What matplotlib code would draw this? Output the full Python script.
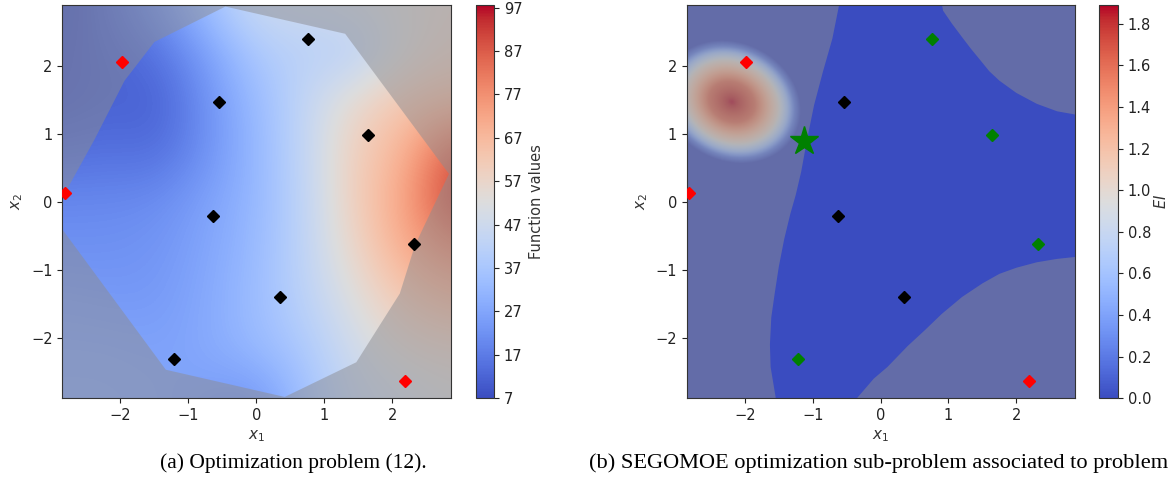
import numpy as np
import matplotlib
matplotlib.use("Agg")
import matplotlib.pyplot as plt
from matplotlib.path import Path
from matplotlib.patches import PathPatch
from matplotlib.colors import Normalize
from matplotlib.cm import ScalarMappable

# ---------------- data ----------------
x_lim = (-2.856, 2.859)
y_lim = (-2.89, 2.893)

# function values read on a coarse grid (panel a)
grid_x = [-2.86, -2.145, -1.43, -0.715, 0.0, 0.715, 1.43, 2.145, 2.86]
grid_y = [2.89, 2.17, 1.445, 0.72, 0.0, -0.72, -1.445, -2.17, -2.89]
f_values = [
    [8, 14, 22, 35, 47, 47, 50, 53, 56],
    [10, 12, 15, 25, 38, 42, 40, 52, 58],
    [10, 12, 11, 22, 33, 44, 56, 63, 66],
    [14, 15, 14, 22, 32, 44, 60, 68, 88],
    [20, 20, 21, 26, 32, 43, 60, 72, 92],
    [22, 22, 23, 27, 33, 43, 57, 70, 78],
    [25, 24, 24, 28, 34, 42, 52, 62, 68],
    [27, 27, 26, 28, 33, 38, 48, 55, 57],
    [28, 28, 27, 25, 22, 35, 45, 48, 52],
]
f_min, f_max = 7, 97.6
f_ticks = [7, 17, 27, 37, 47, 57, 67, 77, 87, 97]

# feasible region of panel a (polygon)
feas_a_x = [-1.50, -0.456, 1.306, 2.833, 2.333, 2.11, 1.47, 0.417, -1.333, -2.86, -2.86, -2.39, -1.94]
feas_a_y = [2.35, 2.87, 2.47, 0.41, -0.64, -1.35, -2.36, -2.87, -2.47, -0.40, 0.05, 0.90, 1.78]

# points
black_x = [0.761, -0.544, 1.639, -0.633, 2.317, 0.350, -1.211]
black_y = [2.397, 1.466, 0.975, -0.216, -0.623, -1.407, -2.309]
red_x = [-1.983, -2.82, 2.183]
red_y = [2.054, 0.127, -2.642]
green_x = [0.761, 1.639, 2.317, -1.211]
green_y = [2.397, 0.975, -0.623, -2.309]
black_b_x = [-0.544, -0.633, 0.350]
black_b_y = [1.466, -0.216, -1.407]
star_x = [-1.13]
star_y = [0.90]

# EI bump (panel b): centre, semi-axes, tilt and radial profile
ei_center = (-2.20, 1.46)
ei_axes = (1.0, 0.83)
ei_tilt_deg = -25
ei_prof_r = [0.0, 0.35, 0.55, 0.70, 0.85, 0.95, 1.05]
ei_prof_v = [1.88, 1.60, 1.25, 1.00, 0.60, 0.22, 0.0]
ei_min, ei_max = 0.0, 1.89
ei_ticks = [0.0, 0.2, 0.4, 0.6, 0.8, 1.0, 1.2, 1.4, 1.6, 1.8]

# feasible region of panel b (polygon)
feas_b_x = [-0.55, -0.71, -0.85, -0.98, -1.08, -1.17, -1.25, -1.33, -1.42, -1.50, -1.56, -1.61,
            -1.63, -1.62, -1.55, -1.50,
            -0.38, -0.35, -0.10, 0.10, 0.40, 0.65, 0.90, 1.20, 1.50, 1.75, 2.00, 2.30, 2.60, 2.88, 3.2,
            3.2, 2.88, 2.60, 2.30, 2.00, 1.75, 1.60, 1.47, 1.33, 1.20, 1.05, 0.92, 0.85]
feas_b_y = [3.2, 2.40, 1.91, 1.42, 0.93, 0.44, 0.10, -0.18, -0.55, -0.96, -1.35, -1.70,
            -2.10, -2.43, -2.85, -3.2,
            -3.2, -2.89, -2.60, -2.43, -2.12, -1.89, -1.65, -1.40, -1.20, -1.06, -0.97, -0.89, -0.84, -0.81, -0.80,
            1.28, 1.28, 1.33, 1.44, 1.60, 1.78, 1.92, 2.08, 2.25, 2.42, 2.62, 2.81, 3.2]

# ---------------- drawing ----------------
plt.rcParams["font.family"] = ["DejaVu Sans"]
fig = plt.figure(figsize=(11.72, 4.98), dpi=100)

W, H = 1172.0, 498.0
def box(l, r, t, b):
    return [l / W, 1 - b / H, (r - l) / W, (b - t) / H]

ax_a = fig.add_axes(box(62.3, 450.7, 5, 398.3))
cax_a = fig.add_axes(box(475.7, 494.0, 5, 398.3))
ax_b = fig.add_axes(box(686.7, 1074.7, 5, 398.3))
cax_b = fig.add_axes(box(1099.0, 1118.0, 5, 398.3))

cmap = plt.get_cmap("coolwarm")
overlay_color = (0.55, 0.55, 0.57)
overlay_alpha = 0.5
tick_color = "#222222"
spine_color = "#333333"


def outside_overlay(ax, xs, ys):
    inner = list(zip(xs, ys))
    area = 0.0
    for i in range(len(inner)):
        x0, y0 = inner[i]
        x1, y1 = inner[(i + 1) % len(inner)]
        area += x0 * y1 - x1 * y0
    if area > 0:
        inner = inner[::-1]
    outer = [(-10, -10), (10, -10), (10, 10), (-10, 10), (-10, -10)]
    verts = outer + inner + [inner[0]]
    codes = ([Path.MOVETO] + [Path.LINETO] * 3 + [Path.CLOSEPOLY]
             + [Path.MOVETO] + [Path.LINETO] * (len(inner) - 1) + [Path.CLOSEPOLY])
    patch = PathPatch(Path(verts, codes), facecolor=overlay_color, alpha=overlay_alpha,
                      edgecolor="none", zorder=2)
    ax.add_patch(patch)


def style_axes(ax):
    ax.set_xlim(*x_lim)
    ax.set_ylim(*y_lim)
    ax.set_xticks([-2, -1, 0, 1, 2])
    ax.set_yticks([-2, -1, 0, 1, 2])
    ax.tick_params(labelsize=10.5, colors=tick_color, length=3.5)
    for s in ax.spines.values():
        s.set_color(spine_color)
    ax.set_xlabel(r"$x_1$", fontsize=11, color="#333333", labelpad=4)
    ax.set_ylabel(r"$x_2$", fontsize=11, color="#333333", labelpad=4)


# panel a
fv = np.array(f_values, dtype=float)
dx = (grid_x[-1] - grid_x[0]) / (len(grid_x) - 1) / 2
dy = (grid_y[0] - grid_y[-1]) / (len(grid_y) - 1) / 2
ax_a.imshow(fv, cmap=cmap, vmin=f_min, vmax=f_max, interpolation="bicubic",
            extent=(grid_x[0] - dx, grid_x[-1] + dx, grid_y[-1] - dy, grid_y[0] + dy),
            aspect="auto", origin="upper", zorder=1)
outside_overlay(ax_a, feas_a_x, feas_a_y)
ax_a.plot(black_x, black_y, "D", color="black", ms=6.3, zorder=5)
ax_a.plot(red_x, red_y, "D", color="red", ms=6.3, zorder=5)
style_axes(ax_a)

cb_a = fig.colorbar(ScalarMappable(Normalize(f_min, f_max), cmap), cax=cax_a, ticks=f_ticks)
cb_a.outline.set_edgecolor(spine_color)
cax_a.tick_params(labelsize=10.5, colors=tick_color, length=3.5)
cb_a.set_label("Function values", fontsize=10.5, color="#333333", labelpad=5)

# panel b
gx = np.linspace(x_lim[0], x_lim[1], 500)
gy = np.linspace(y_lim[0], y_lim[1], 500)
GX, GY = np.meshgrid(gx, gy)
th = np.deg2rad(ei_tilt_deg)
u = (GX - ei_center[0]) * np.cos(th) + (GY - ei_center[1]) * np.sin(th)
v = -(GX - ei_center[0]) * np.sin(th) + (GY - ei_center[1]) * np.cos(th)
rn = np.sqrt((u / ei_axes[0]) ** 2 + (v / ei_axes[1]) ** 2)
EI = np.interp(rn, ei_prof_r, ei_prof_v)
ax_b.imshow(EI, cmap=cmap, vmin=ei_min, vmax=ei_max, interpolation="bilinear",
            extent=(x_lim[0], x_lim[1], y_lim[0], y_lim[1]), origin="lower",
            aspect="auto", zorder=1)
outside_overlay(ax_b, feas_b_x, feas_b_y)
ax_b.plot(green_x, green_y, "D", color="green", ms=6.3, zorder=5)
ax_b.plot(black_b_x, black_b_y, "D", color="black", ms=6.3, zorder=5)
ax_b.plot(red_x, red_y, "D", color="red", ms=6.3, zorder=5)
ax_b.plot(star_x, star_y, "*", color="green", ms=21, zorder=6)
style_axes(ax_b)

cb_b = fig.colorbar(ScalarMappable(Normalize(ei_min, ei_max), cmap), cax=cax_b, ticks=ei_ticks,
                    format="%.1f")
cb_b.outline.set_edgecolor(spine_color)
cax_b.tick_params(labelsize=10.5, colors=tick_color, length=3.5)
cb_b.set_label(r"$EI$", fontsize=10.5, color="#333333", labelpad=1)

# captions
fig.text(293.5 / W, 1 - 463 / H, "(a) Optimization problem (12).", ha="center", va="center",
         fontsize=15.5, family="Liberation Serif", color="black")
fig.text(589 / W, 1 - 463 / H, "(b) SEGOMOE optimization sub-problem associated to problem",
         ha="left", va="center", fontsize=16.1, family="Liberation Serif", color="black")

fig.savefig("out.png", dpi=100)
